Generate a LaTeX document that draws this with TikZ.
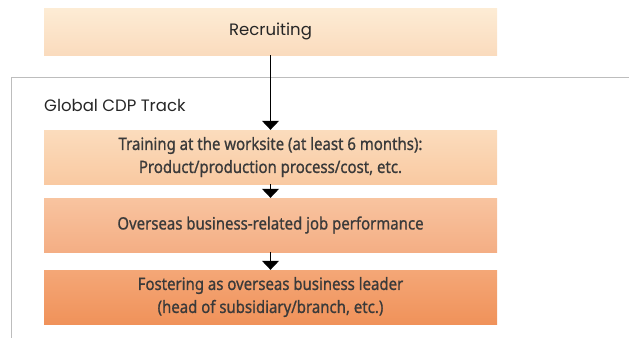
\documentclass[tikz,border=0pt]{standalone}
\usepackage{fontspec}
\setmainfont{Noto Sans}
\newfontfamily\headfont{Poppins}
\newfontfamily\boxfont{Noto Sans}[FakeStretch=0.88, FakeBold=0.9]
\usetikzlibrary{positioning,arrows.meta}

\definecolor{txtgray}{HTML}{3A3A3A}
\definecolor{framegray}{HTML}{BDBDBD}
\definecolor{recruittop}{HTML}{FDECD5}
\definecolor{recruitbot}{HTML}{FADBBD}
\definecolor{traintop}{HTML}{FBDCBD}
\definecolor{trainbot}{HTML}{F9C9A1}
\definecolor{oversetop}{HTML}{F8C4A0}
\definecolor{oversebot}{HTML}{F4AE84}
\definecolor{leadtop}{HTML}{F4A777}
\definecolor{leadbot}{HTML}{F0925A}

\begin{document}
\begin{tikzpicture}[x=1pt,y=-1pt,
  stagebox/.style={minimum width=453pt, minimum height=54pt, inner sep=0pt,
    align=center, text=txtgray, font=\boxfont\fontsize{17}{23}\selectfont},
  flow/.style={-{Triangle[width=17pt,length=9pt]}, line width=1pt}]

\useasboundingbox (0,0) rectangle (629,338);

\draw[framegray] (629,77) -- (11,77) -- (11,338);

\node[stagebox, minimum height=47pt, top color=recruittop, bottom color=recruitbot,
  font=\headfont\fontsize{16.5}{20}\selectfont, text=black!85] (recruit) at (270.5,31.5) {Recruiting};

\node[anchor=west, inner sep=0pt, font=\headfont\fontsize{16.5}{20}\selectfont, text=black!85] (track) at (44,105) {Global CDP Track};

\node[stagebox, top color=traintop, bottom color=trainbot] (training) at (270.5,157)
  {Training at the worksite (at least 6 months):\\Product/production process/cost, etc.};
\node[stagebox, top color=oversetop, bottom color=oversebot] (overseas) at (270.5,225)
  {Overseas business-related job performance};
\node[stagebox, top color=leadtop, bottom color=leadbot] (leader) at (270.5,297)
  {Fostering as overseas business leader\\(head of subsidiary/branch, etc.)};

\draw[flow] (recruit) -- (training);
\draw[flow] (training) -- (overseas);
\draw[flow] (overseas) -- (leader);

\end{tikzpicture}
\end{document}
